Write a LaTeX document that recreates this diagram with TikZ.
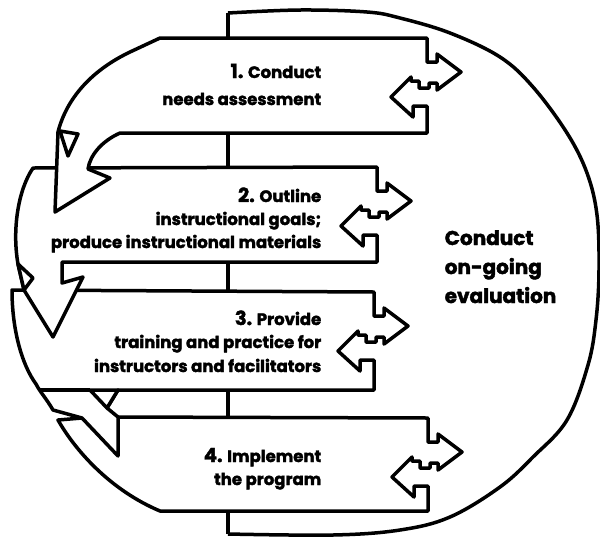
\documentclass[tikz,border=0pt]{standalone}
\usepackage{fontspec}
\setmainfont{Poppins}[BoldFeatures={FakeBold=2}]
\newcommand\numsize{\fontsize{19.5}{21}\selectfont}
\newcommand\twoway[2]{% right edge x = #1, box top y = #2
  -- ({#1},{#2+24}) -- ({#1+10},{#2+24}) -- ({#1+10},{#2+16}) -- ({#1+34},{#2+34})
  -- ({#1+10},{#2+52}) -- ({#1+10},{#2+45}) -- ({#1+2},{#2+45}) -- ({#1+2},{#2+50})
  -- ({#1-8},{#2+50}) -- ({#1-8},{#2+43}) -- ({#1-16},{#2+43}) -- ({#1-16},{#2+39})
  -- ({#1-36},{#2+59}) -- ({#1-14},{#2+79}) -- ({#1-14},{#2+68}) -- ({#1},{#2+68})}
\begin{document}
\begin{tikzpicture}[x=1pt,y=-1pt,line width=3.5pt,line join=round,
  band/.style={draw=black,fill=white},
  steptext/.style={font=\bfseries\fontsize{16.5}{18}\selectfont,anchor=base east,inner sep=0pt},
  evaltext/.style={font=\bfseries\fontsize{20}{22}\selectfont,anchor=base west,inner sep=0pt}]
\useasboundingbox (0,0) rectangle (600,539);
\fill[white] (0,0) rectangle (600,539);

% evaluation circle and central spine
\draw (228,13) -- (228,534);
\draw plot[smooth,tension=0.6] coordinates {(228,13) (300,10) (367,12) (400,18) (450,33)
  (500,57) (533,87) (567,133) (587,173) (597,215) (599,270) (596,320) (588,365)
  (567,420) (533,457) (500,487) (450,517) (400,530) (333,535) (228,534)};

% step 4
\draw[band] (118,417) -- (428,418) \twoway{428}{418} -- (428,511) -- (160,511)
  .. controls (110,490) and (75,450) .. (58,420) -- (82,418) -- cycle;
% step 3 and the arrow into step 4
\draw[band] (12,290) -- (374,292) \twoway{374}{292} -- (374,390) -- (118,390)
  -- (107,408) -- (118,417) -- (118,456) -- (82,418) -- (53,410)
  .. controls (46,398) and (40,392) .. (36,384)
  .. controls (22,365) and (12,330) .. cycle;
\draw (40,390) -- (90,390);
\draw[band] (90,390) -- (118,390) -- (107,408) -- cycle;
% step 2 and the arrow into step 3
\draw[band] (33,168) -- (377,167) \twoway{377}{167} -- (377,262) -- (62,262)
  -- (62,283) -- (83,277) -- (53,337) -- (24,290) -- (18,264)
  .. controls (12,230) and (18,190) .. cycle;
\draw[band] (18,264) -- (33,278) -- (24,290) -- cycle;
% step 1 and the arrow into step 2
\draw[band] (160,38) -- (427,38) \twoway{427}{38} -- (427,133) -- (120,133)
  .. controls (102,141) and (90,155) .. (88,169) -- (110,178) -- (55,212)
  -- (58,132) .. controls (64,108) and (82,75) .. (130,52) -- cycle;
\draw[band] (60,131) -- (78,134) -- (68,156) -- cycle;

% labels
\node[steptext] (s1a) at (323,78) {{\numsize 1.} Conduct};
\node[steptext] (s1b) at (323,105) {needs assessment};
\node[steptext] (s2a) at (323,202) {{\numsize 2.} Outline};
\node[steptext] (s2b) at (323,225) {instructional goals;};
\node[steptext] (s2c) at (323,248) {produce instructional materials};
\node[steptext] (s3a) at (323,325) {{\numsize 3.} Provide};
\node[steptext] (s3b) at (323,348) {training and practice for};
\node[steptext] (s3c) at (323,372) {instructors and facilitators};
\node[steptext] (s4a) at (323,462) {{\numsize 4.} Implement};
\node[steptext] (s4b) at (323,485) {the program};
\node[evaltext] (e1) at (443,245) {Conduct};
\node[evaltext] (e2) at (443,274) {on-going};
\node[evaltext] (e3) at (443,303) {evaluation};
\end{tikzpicture}
\end{document}
